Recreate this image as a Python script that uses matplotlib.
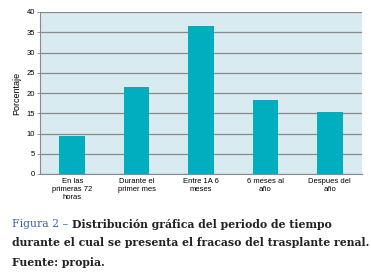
import matplotlib.pyplot as plt
import numpy as np

categorias = ['En las\nprimeras 72\nhoras', 'Durante el\nprimer mes', 'Entre 1A 6\nmeses',
              '6 meses al\naño', 'Despues del\naño']
porcentaje = [9.3, 21.4, 36.6, 18.3, 15.2]
yticks = [0, 5, 10, 15, 20, 25, 30, 35, 40]

fig = plt.figure(figsize=(3.71, 2.76), dpi=100)
ax = fig.add_axes([40 / 371, 1 - 174 / 276, 322 / 371, 162 / 276])

x = np.arange(len(categorias))
ax.set_facecolor('#d8ebf1')
ax.bar(x, porcentaje, width=0.4, color='#00aebf', zorder=3)

ax.set_xlim(-0.5, len(categorias) - 0.5)
ax.set_ylim(0, 40)
ax.set_yticks(yticks)
ax.yaxis.grid(True, color='#8a8a8a', linewidth=0.9, zorder=1)
ax.set_xticks(x)
ax.set_xticklabels(categorias, fontsize=5.5, family='Liberation Sans', linespacing=1.15)
for lbl in ax.get_yticklabels():
    lbl.set_fontsize(5.5)
    lbl.set_family('Liberation Sans')
ax.tick_params(axis='x', length=0, pad=3)
ax.tick_params(axis='y', length=2, width=0.6, color='#8a8a8a', pad=1.5)
ax.set_ylabel('Porcentaje', fontsize=6.5, family='Liberation Sans', labelpad=4)
for s in ['top', 'right']:
    ax.spines[s].set_visible(False)
for s in ['left', 'bottom']:
    ax.spines[s].set_color('#8a8a8a')
    ax.spines[s].set_linewidth(0.8)

# pie de figura
fs = 7.85
t1 = fig.text(12 / 371, 1 - 224 / 276, 'Figura 2 – ', color='#3b64a3', fontsize=fs,
              family='DejaVu Serif', va='center')
ax.annotate('Distribución gráfica del periodo de tiempo', xy=(1, 0.5), xycoords=t1,
            va='center', ha='left', color='#222222', fontsize=fs, family='DejaVu Serif',
            fontweight='bold', annotation_clip=False)
fig.text(12 / 371, 1 - 243 / 276, 'durante el cual se presenta el fracaso del trasplante renal.',
         color='#222222', fontsize=fs, family='DejaVu Serif', fontweight='bold', va='center')
fig.text(12 / 371, 1 - 262 / 276, 'Fuente: propia.',
         color='#222222', fontsize=fs, family='DejaVu Serif', fontweight='bold', va='center')

fig.savefig('out.png', dpi=100)
